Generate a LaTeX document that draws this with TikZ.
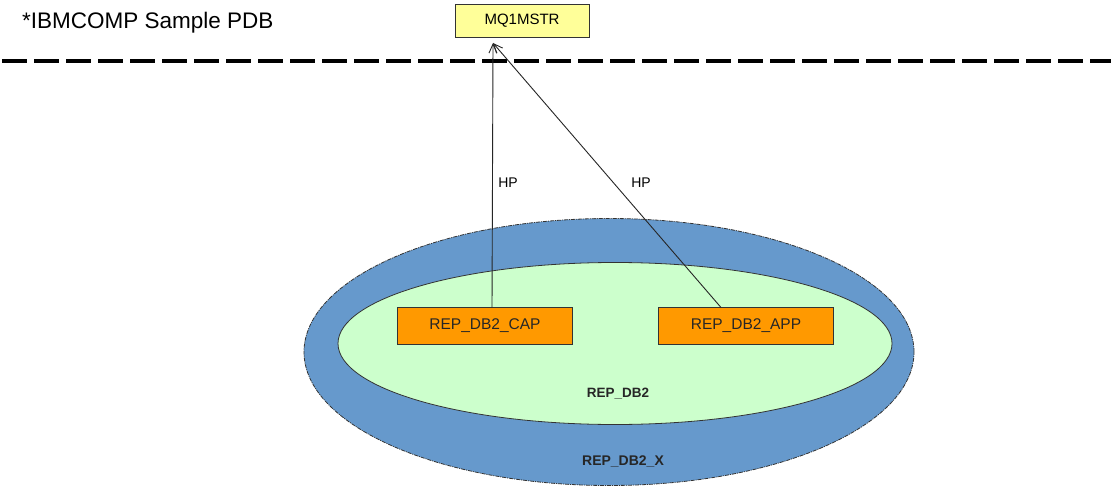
\documentclass[tikz,border=0pt]{standalone}
\usepackage{fontspec}
\setmainfont{Liberation Sans}
\usetikzlibrary{shapes.geometric,arrows.meta}
\definecolor{outerblue}{HTML}{6699CC}
\definecolor{innergreen}{HTML}{CCFFCC}
\definecolor{boxorange}{HTML}{FF9900}
\definecolor{boxyellow}{HTML}{FFFF99}
\definecolor{edgegray}{HTML}{333333}
\tikzset{
  appbox/.style={draw=edgegray, line width=1pt, fill=boxorange, minimum width=175pt, minimum height=37pt, inner sep=0pt, font=\fontsize{15.5}{18}\selectfont, text=black!85},
  qbox/.style={draw=edgegray, line width=1pt, fill=boxyellow, minimum width=134pt, minimum height=33pt, inner sep=0pt, font=\fontsize{15}{18}\selectfont},
  conn/.style={draw=black!85, line width=0.9pt, -{Straight Barb[length=9pt,width=8pt,line width=0.9pt]}},
  lbl/.style={font=\fontsize{14}{16}\selectfont, inner sep=0pt},
  grplbl/.style={font=\bfseries\fontsize{13.5}{16}\selectfont, inner sep=0pt, text=black!85},
  sep/.style={line width=4pt, dash pattern=on 25pt off 7pt}
}
\begin{document}
\begin{tikzpicture}[x=1pt,y=-1pt]
\useasboundingbox (0,0) rectangle (1111,487);
\fill[white] (0,0) rectangle (1111,487);
% title
\node[anchor=west, inner sep=0pt, font=\fontsize{22.5}{26}\selectfont] (title) at (22,23) {*IBMCOMP Sample PDB};
% separator
\coordinate (sepL) at (2,61);
\coordinate (sepR) at (1111,61);
\draw[sep] (sepL) -- (sepR);
% ellipses
\node[ellipse, draw=black!80, line width=0.8pt, dash pattern=on 4pt off 1pt on 1pt off 1pt, fill=outerblue, minimum width=610pt, minimum height=267pt, inner sep=0pt] (outer) at (609,352) {};
\node[ellipse, draw=black!80, line width=0.8pt, fill=innergreen, minimum width=554pt, minimum height=162pt, inner sep=0pt] (inner) at (615,343.5) {};
% labels
\node[grplbl] (lbldb2) at (618,394) {REP\_DB2};
\node[grplbl, font=\bfseries\fontsize{14}{16}\selectfont] (lbldb2x) at (623,461) {REP\_DB2\_X};
% boxes
\node[qbox] (mq) at (522,21) {MQ1MSTR};
\node[appbox] (cap) at (485,326) {REP\_DB2\_CAP};
\node[appbox] (app) at (746,326) {REP\_DB2\_APP};
% arrows
\coordinate (tip) at (493,43);
\coordinate (capTop) at (492,307.5);
\coordinate (appTop) at (721,307.5);
\draw[conn] (capTop) -- (tip);
\draw[conn] (appTop) -- (tip);
\node[lbl] (hp1) at (508,183) {HP};
\node[lbl] (hp2) at (641,183) {HP};
\end{tikzpicture}
\end{document}
